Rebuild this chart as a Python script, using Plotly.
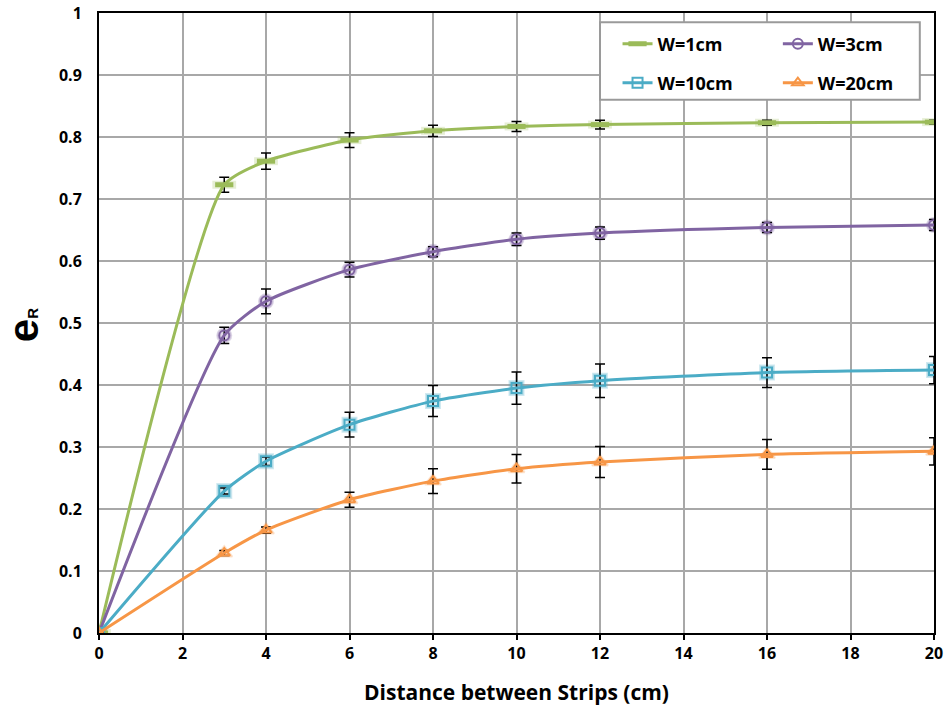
import plotly.graph_objects as go

# Strip spacing (cm)
distance = [0, 3, 4, 6, 8, 10, 12, 16, 20]

# Efficiency e_R for each strip width, with error half-widths
w1_vals = [0, 0.723, 0.761, 0.795, 0.810, 0.817, 0.820, 0.823, 0.824]
w1_err = [0, 0.012, 0.013, 0.012, 0.009, 0.008, 0.007, 0.004, 0.003]

w3_vals = [0, 0.480, 0.535, 0.586, 0.615, 0.635, 0.645, 0.654, 0.658]
w3_err = [0, 0.013, 0.020, 0.012, 0.008, 0.010, 0.010, 0.008, 0.009]

w10_vals = [0, 0.229, 0.277, 0.336, 0.374, 0.395, 0.407, 0.420, 0.424]
w10_err = [0, 0.005, 0.007, 0.020, 0.025, 0.026, 0.027, 0.024, 0.022]

w20_vals = [0, 0.129, 0.166, 0.215, 0.245, 0.265, 0.276, 0.288, 0.293]
w20_err = [0, 0.004, 0.005, 0.012, 0.020, 0.023, 0.025, 0.024, 0.022]

x_ticks = list(range(0, 21, 2))
y_ticks = [round(0.1 * i, 1) for i in range(11)]
y_tick_text = ["0", "0.1", "0.2", "0.3", "0.4", "0.5", "0.6", "0.7", "0.8", "0.9", "1"]

x_title = "Distance between Strips (cm)"

# name, values, errors, colour, marker symbol, soft halo symbol, legend id
series = [
    ("W=1cm", w1_vals, w1_err, "#9bbb59", "line-ew", "line-ew", "legend"),
    ("W=3cm", w3_vals, w3_err, "#8064a2", "circle-open", "circle", "legend2"),
    ("W=10cm", w10_vals, w10_err, "#4bacc6", "square-open", "square", "legend3"),
    ("W=20cm", w20_vals, w20_err, "#f79646", "triangle-up-open", "triangle-up", "legend4"),
]

FONT = "Open Sans"


def rgba(hex_color, alpha):
    h = hex_color.lstrip("#")
    r, g, b = (int(h[i:i + 2], 16) for i in (0, 2, 4))
    return f"rgba({r},{g},{b},{alpha})"


fig = go.Figure()

# soft glow behind each marker, drawn first so it sits underneath
for name, vals, err, color, symbol, halo, leg in series:
    is_dash = symbol == "line-ew"
    fig.add_trace(go.Scatter(
        x=distance, y=vals, mode="markers", showlegend=False, hoverinfo="skip",
        marker=dict(symbol=halo, size=17 if is_dash else 14,
                    color=rgba(color, 0.25),
                    line=dict(color=rgba(color, 0.25), width=8 if is_dash else 2)),
    ))

for name, vals, err, color, symbol, halo, leg in series:
    is_dash = symbol == "line-ew"
    fig.add_trace(go.Scatter(
        x=distance, y=vals, name=name, mode="lines+markers", legend=leg,
        line=dict(color=color, width=3, shape="spline", smoothing=0.6),
        marker=dict(symbol=symbol, size=13 if is_dash else 10,
                    color=color, line=dict(color=color, width=5 if is_dash else 2)),
        error_y=dict(type="data", array=err, visible=True, color="black",
                     thickness=1.5, width=5),
    ))

# 2x2 legend grid: each entry placed in its own legend box
leg_font = dict(family=FONT, size=18, color="black", weight="bold")
col_x = [0.621, 0.813]
row_y = [0.95, 0.887]
legend_pos = {
    "legend": (col_x[0], row_y[0]),
    "legend2": (col_x[1], row_y[0]),
    "legend3": (col_x[0], row_y[1]),
    "legend4": (col_x[1], row_y[1]),
}
legend_layout = {}
for key, (lx, ly) in legend_pos.items():
    legend_layout[key] = dict(
        x=lx, y=ly, xanchor="left", yanchor="middle", xref="paper", yref="paper",
        bgcolor="rgba(0,0,0,0)", borderwidth=0, font=leg_font,
    )

fig.update_layout(
    width=949, height=708,
    margin=dict(l=99, r=15, t=13, b=75, autoexpand=False),
    paper_bgcolor="white", plot_bgcolor="white",
    font=dict(family=FONT, color="black"),
    showlegend=True,
    **legend_layout,
    shapes=[dict(
        type="rect", xref="paper", yref="paper",
        x0=0.6, x1=0.983, y0=0.86, y1=0.985,
        fillcolor="white", line=dict(color="#9a9a9a", width=2), layer="above",
    )],
    annotations=[
        dict(text=f"<b>{x_title}</b>", xref="paper", yref="paper",
             x=0.5, y=-0.095, xanchor="center", yanchor="middle",
             showarrow=False, font=dict(size=21, family=FONT, color="black")),
        dict(text="<b>e<span style='font-size:15px'>R</span></b>",
             xref="paper", yref="paper", x=-0.0895, y=0.497,
             xanchor="center", yanchor="middle", textangle=-90,
             showarrow=False,
             font=dict(size=42, family="Liberation Sans", color="black")),
    ],
    xaxis=dict(
        range=[0, 20], tickvals=x_ticks, ticktext=[f"<b>{v}</b>" for v in x_ticks],
        tickfont=dict(size=16, family=FONT), automargin=False,
        showgrid=True, gridcolor="#a8a8a8", gridwidth=2,
        showline=True, linecolor="black", linewidth=2, mirror=True,
        ticks="outside", ticklen=5, tickcolor="black", tickwidth=1.5,
        zeroline=False,
    ),
    yaxis=dict(
        range=[0, 1], tickvals=y_ticks, ticktext=[f"<b>{t}</b>" for t in y_tick_text],
        tickfont=dict(size=16, family=FONT), ticklabelstandoff=12, automargin=False,
        showgrid=True, gridcolor="#a8a8a8", gridwidth=2,
        showline=True, linecolor="black", linewidth=2, mirror=True,
        ticks="", zeroline=False,
    ),
)

fig.write_html("out.html")
